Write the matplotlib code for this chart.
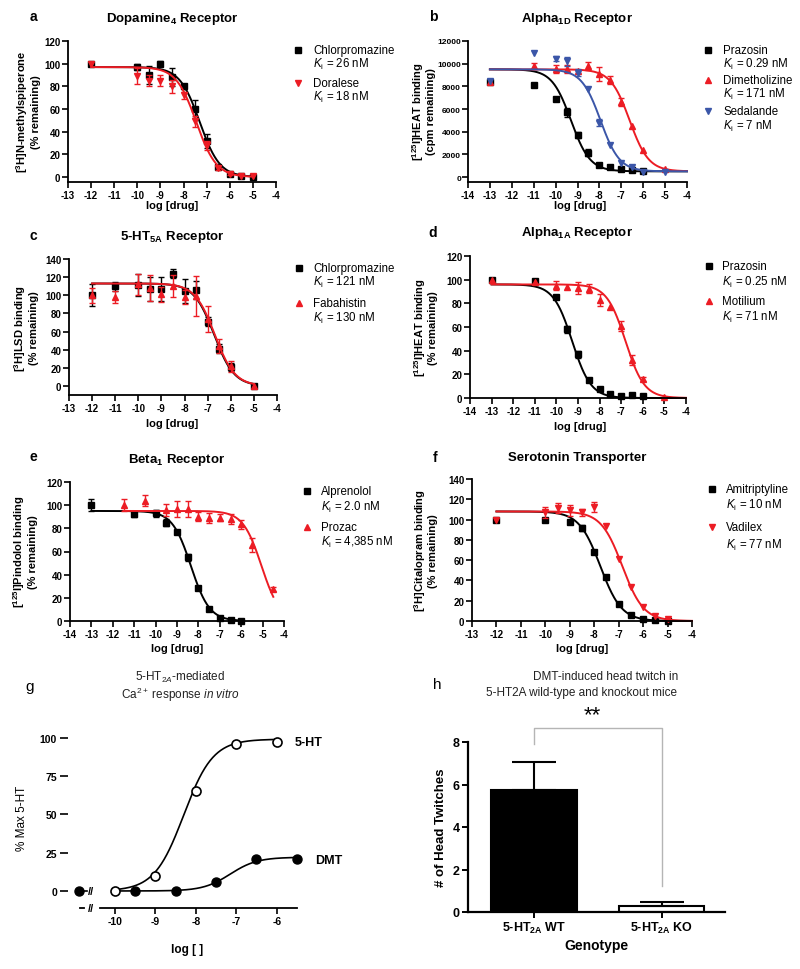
import numpy as np
import matplotlib
matplotlib.use('Agg')
import matplotlib.pyplot as plt
from matplotlib.lines import Line2D

plt.rcParams['font.family'] = ['Liberation Sans', 'DejaVu Sans']
plt.rcParams['mathtext.fontset'] = 'custom'
plt.rcParams['mathtext.rm'] = 'Liberation Sans'
plt.rcParams['mathtext.it'] = 'Liberation Sans:italic'
plt.rcParams['mathtext.bf'] = 'Liberation Sans:bold'
plt.rcParams['axes.unicode_minus'] = False

W, H = 800, 970
RED = '#ec1c24'
BLUE = '#3b56a8'

# ---- panel a: Dopamine4 ----
a_x = [-12, -10, -9.5, -9, -8.5, -8, -7.5, -7, -6.5, -6, -5.5, -5]
a_chlor = [100, 97, 90, 100, 88, 80, 60, 32, 9, 3, 1, 0]
a_chlor_err = [0, 3, 8, 2, 8, 2, 8, 6, 2, 1, 0, 0]
a_doral = [100, 89, 85, 85, 80, 72, 49, 28, 8, 3, 1, 0.5]
a_doral_err = [0, 7, 5, 5, 6, 3, 5, 4, 2, 1, 0, 0]
a_fit = [(0, 97, -7.3), (0, 97, -7.45)]   # bottom, top, logIC50
a_ki = ['26 nM', '18 nM']
a_names = ['Chlorpromazine', 'Doralese']

# ---- panel b: Alpha1D ----
b_x_praz = [-13, -11, -10, -9.5, -9, -8.5, -8, -7.5, -7, -6.5, -6]
b_praz = [8400, 8150, 6850, 5700, 3700, 2150, 1100, 850, 750, 600, 500]
b_praz_err = [0, 0, 0, 400, 300, 300, 0, 0, 0, 0, 0]
b_x = [-13, -11, -10, -9.5, -9, -8.5, -8, -7.5, -7, -6.5, -6, -5]
b_dimet = [8350, 9800, 9550, 9500, 9380, 9800, 9100, 8550, 6600, 4500, 2400, 700]
b_dimet_err = [0, 300, 350, 350, 0, 350, 600, 350, 350, 0, 0, 0]
b_sedal = [8450, 10900, 10450, 10200, 9200, 7800, 4800, 2850, 1250, 850, 470, 400]
b_sedal_err = [0, 0, 200, 400, 300, 0, 300, 0, 0, 0, 0, 0]
b_fit = [(500, 9500, -9.3), (500, 9500, -6.62), (500, 9500, -7.95)]
b_ki = ['0.29 nM', '171 nM', '7 nM']
b_names = ['Prazosin', 'Dimetholizine', 'Sedalande']

# ---- panel c: 5-HT5A ----
c_x = [-12, -11, -10, -9.5, -9, -8.5, -8, -7.5, -7, -6.5, -6, -5]
c_chlor = [100, 110, 111, 107, 107, 124, 105, 106, 71, 41, 21, 0]
c_chlor_err = [12, 5, 12, 13, 13, 5, 13, 10, 5, 5, 4, 0]
c_faba = [100, 98, 112, 108, 101, 110, 98, 99, 74, 44, 22, 0]
c_faba_err = [8, 7, 12, 14, 8, 12, 8, 22, 14, 8, 6, 0]
c_fit = [(0, 113, -6.72), (0, 113, -6.69)]
c_ki = ['121 nM', '130 nM']
c_names = ['Chlorpromazine', 'Fabahistin']

# ---- panel d: Alpha1A ----
d_x_praz = [-13, -11, -10, -9.5, -9, -8.5, -8, -7.5, -7, -6.5, -6]
d_praz = [100, 99, 85, 58, 37, 15, 7.5, 3, 2, 2.5, 1.5]
d_praz_err = [0, 0, 0, 3, 3, 0, 0, 0, 0, 0, 0]
d_x_moti = [-13, -11, -10, -9.5, -9, -8.5, -8, -7.5, -7, -6.5, -6, -5]
d_moti = [100, 98, 95, 93.5, 93, 92.5, 83, 77, 61, 32, 16, 1]
d_moti_err = [0, 0, 4, 0, 5, 4, 5, 0, 4, 4, 2, 0]
d_fit = [(0, 96, -9.27), (0, 96, -6.8)]
d_ki = ['0.25 nM', '71 nM']
d_names = ['Prazosin', 'Motilium']

# ---- panel e: Beta1 ----
e_x_alpr = [-13, -11, -10, -9.5, -9, -8.5, -8, -7.5, -7, -6.5, -6]
e_alpr = [100, 92, 93, 85, 77, 55, 28.5, 10, 3, 1, 0]
e_alpr_err = [5, 2, 3, 3, 0, 3, 2, 0, 0, 0, 0]
e_x_proz = [-11.5, -10.5, -9.5, -9, -8.5, -8, -7.5, -7, -6.5, -6, -5.5, -4.5]
e_proz = [100, 104, 96, 97, 97, 90, 89, 89, 88, 83.5, 66, 27.5]
e_proz_err = [5, 5, 5, 7, 7, 4, 4, 3, 4, 4, 6, 2]
e_fit = [(0, 95, -8.35), (0, 95, -5.05)]
e_ki = ['2.0 nM', '4,385 nM']
e_names = ['Alprenolol', 'Prozac']

# ---- panel f: Serotonin transporter ----
f_x_amit = [-12, -10, -9, -8.5, -8, -7.5, -7, -6.5, -6, -5.5, -5]
f_amit = [100, 100, 97.5, 91.5, 68, 43, 17, 6, 2, 1, 0]
f_amit_err = [0, 0, 0, 3, 0, 0, 0, 0, 0, 0, 0]
f_x_vadi = [-12, -10, -9.5, -9, -8.5, -8, -7.5, -7, -6.5, -6, -5.5, -5]
f_vadi = [100, 107, 111, 109, 107, 112, 93.5, 61, 33.5, 14, 5, 2]
f_vadi_err = [0, 5, 5, 5, 3, 5, 0, 0, 0, 0, 0, 0]
f_fit = [(0, 108, -7.75), (0, 108, -6.85)]
f_ki = ['10 nM', '77 nM']
f_names = ['Amitriptyline', 'Vadilex']

# ---- panel g: Ca2+ response ----
g_x_5ht = [-10, -9, -8, -7, -6]
g_5ht = [0, 10, 65, 96, 97]
g_x_dmt = [-9.5, -8.5, -7.5, -6.5, -5.5]
g_dmt = [0, 0, 6, 21, 21]
g_base_x = -10.89
g_base = 0
g_fit_5ht = (0, 99, -8.3, 1.2)
g_fit_dmt = (0, 22, -7.15, 1.3)

# ---- panel h: head twitch ----
h_groups = ['5-HT$_{\\mathbf{2A}}$ WT', '5-HT$_{\\mathbf{2A}}$ KO']
h_means = [5.75, 0.3]
h_err = [1.3, 0.18]


def hill_down(x, bottom, top, logc):
    return bottom + (top - bottom) / (1 + 10 ** (x - logc))


def hill_up(x, bottom, top, logc, slope):
    return bottom + (top - bottom) / (1 + 10 ** ((logc - x) * slope))


fig = plt.figure(figsize=(W / 100, H / 100), dpi=100)


def add_axes(left, top, right, bottom):
    return fig.add_axes([left / W, 1 - bottom / H, (right - left) / W, (bottom - top) / H])


def ftext(x, y, s, **kw):
    fig.text(x / W, 1 - y / H, s, **kw)


def style(ax, xlim, ylim, xticks, yticks, lab=7, ylab_size=None):
    ax.set_xlim(xlim)
    ax.set_ylim(ylim)
    ax.spines[['top', 'right']].set_visible(False)
    ax.spines['left'].set_linewidth(1.3)
    ax.spines['bottom'].set_linewidth(1.3)
    ax.set_xticks(xticks)
    ax.set_yticks(yticks)
    ax.tick_params(direction='out', length=4, width=1.2, labelsize=lab, pad=1.5)
    if ylab_size:
        ax.tick_params(axis='y', labelsize=ylab_size, pad=1)
    for t in ax.get_xticklabels() + ax.get_yticklabels():
        t.set_fontweight('bold')


def series(ax, x, y, err, color, marker, fit, xr):
    x = np.asarray(x, float)
    y = np.asarray(y, float)
    err = np.asarray(err, float)
    xs = np.linspace(xr[0], xr[1], 300)
    ax.plot(xs, hill_down(xs, *fit), color=color, lw=1.4, clip_on=False)
    m = err > 0
    ax.errorbar(x[m], y[m], yerr=err[m], fmt='none', ecolor=color, elinewidth=1,
                capsize=2.5, capthick=1, clip_on=False)
    ax.plot(x, y, ls='none', marker=marker, color=color, ms=4.3, clip_on=False)


def legend(xm, xt, ys, markers, colors, names, kis):
    for (y1, y2), mk, c, n, k in zip(ys, markers, colors, names, kis):
        fig.add_artist(Line2D([xm / W], [1 - y1 / H], marker=mk, color=c, ms=5, ls='none'))
        ftext(xt, y1, n, fontsize=8.3, va='center')
        ftext(xt, y2, r'$K_\mathrm{i}$ = ' + k, fontsize=8.3, va='center')


def header(lx, ly, letter, tx, ty, title):
    ftext(lx, ly, letter, fontsize=10, fontweight='bold', ha='center', va='center')
    ftext(tx, ty, title, fontsize=9.5, fontweight='bold', ha='center', va='center')


def ylab(x, y, s):
    ftext(x, y, s, fontsize=8, fontweight='bold', rotation=90, ha='center', va='center',
          multialignment='center', linespacing=1.1)


def xlab(x, y):
    ftext(x, y, 'log [drug]', fontsize=8, fontweight='bold', ha='center', va='center')


# panel a
ax = add_axes(68, 42, 276, 183)
style(ax, (-13, -4), (-4.4, 120), range(-13, -3), range(0, 121, 20))
series(ax, a_x, a_chlor, a_chlor_err, 'black', 's', a_fit[0], (-12, -5))
series(ax, a_x, a_doral, a_doral_err, RED, 'v', a_fit[1], (-12, -5))
header(33, 17, 'a', 172, 19, 'Dopamine$_{\\mathbf{4}}$ Receptor')
ylab(28, 112, '[$^{\\mathbf{3}}$H]N-methylspiperone\n(% remaining)')
xlab(172, 206)
legend(298, 313, [(51, 64), (84, 97)], ['s', 'v'], ['black', RED], a_names, a_ki)

# panel b
ax = add_axes(468, 42, 687, 183)
style(ax, (-14, -4), (-441, 12000), range(-14, -3), range(0, 12001, 2000), ylab_size=6)
series(ax, b_x_praz, b_praz, b_praz_err, 'black', 's', b_fit[0], (-13, -4))
series(ax, b_x, b_dimet, b_dimet_err, RED, '^', b_fit[1], (-13, -4))
series(ax, b_x, b_sedal, b_sedal_err, BLUE, 'v', b_fit[2], (-13, -4))
header(433, 17, 'b', 577, 19, 'Alpha$_{\\mathbf{1D}}$ Receptor')
ylab(423, 112, '[$^{\\mathbf{125}}$I]HEAT binding\n(cpm remaining)')
xlab(580, 206)
legend(708, 723, [(51, 64), (81, 94), (112, 126)], ['s', '^', 'v'], ['black', RED, BLUE],
       b_names, b_ki)

# panel c
ax = add_axes(69, 260, 277, 396)
style(ax, (-13, -4), (-9.9, 140), range(-13, -3), range(0, 141, 20))
series(ax, c_x, c_chlor, c_chlor_err, 'black', 's', c_fit[0], (-12, -5))
series(ax, c_x, c_faba, c_faba_err, RED, '^', c_fit[1], (-12, -5))
header(33, 236, 'c', 172, 237, '5-HT$_{\\mathbf{5A}}$ Receptor')
ylab(26, 328, '[$^{\\mathbf{3}}$H]LSD binding\n(% remaining)')
xlab(172, 424)
legend(299, 313, [(269, 282), (304, 318)], ['s', '^'], ['black', RED], c_names, c_ki)

# panel d
ax = add_axes(470, 257, 686, 399)
style(ax, (-14, -4), (0, 120), range(-14, -3), range(0, 121, 20))
series(ax, d_x_praz, d_praz, d_praz_err, 'black', 's', d_fit[0], (-13, -4))
series(ax, d_x_moti, d_moti, d_moti_err, RED, '^', d_fit[1], (-13, -4))
header(433, 233, 'd', 577, 233, 'Alpha$_{\\mathbf{1A}}$ Receptor')
ylab(425, 328, '[$^{\\mathbf{125}}$I]HEAT binding\n(% remaining)')
xlab(580, 427)
legend(709, 722, [(267, 282), (302, 317)], ['s', '^'], ['black', RED], d_names, d_ki)

# panel e
ax = add_axes(70, 483, 284, 622)
style(ax, (-14, -4), (0, 120), range(-14, -3), range(0, 121, 20))
series(ax, e_x_alpr, e_alpr, e_alpr_err, 'black', 's', e_fit[0], (-13, -6))
series(ax, e_x_proz, e_proz, e_proz_err, RED, '^', e_fit[1], (-11.5, -4.5))
header(33, 457, 'e', 177, 460, 'Beta$_{\\mathbf{1}}$ Receptor')
ylab(25, 552, '[$^{\\mathbf{125}}$I]Pindolol binding\n(% remaining)')
xlab(177, 649)
legend(307, 321, [(492, 507), (528, 542)], ['s', '^'], ['black', RED], e_names, e_ki)

# panel f
ax = add_axes(472, 480, 692, 622)
style(ax, (-13, -4), (0, 140), range(-13, -3), range(0, 141, 20))
series(ax, f_x_amit, f_amit, f_amit_err, 'black', 's', f_fit[0], (-12, -4))
series(ax, f_x_vadi, f_vadi, f_vadi_err, RED, 'v', f_fit[1], (-12, -4))
header(435, 458, 'f', 577, 458, 'Serotonin Transporter')
ylab(425, 551, '[$^{\\mathbf{3}}$H]Citalopram binding\n(% remaining)')
xlab(582, 649)
legend(712, 726, [(490, 505), (528, 545)], ['s', 'v'], ['black', RED], f_names, f_ki)

# panel g
ax = add_axes(68, 731, 305, 909)
ax.set_xlim(-11.16, -5.3)
ax.set_ylim(-11.1, 105)
ax.spines[['top', 'right', 'left']].set_visible(False)
ax.spines['bottom'].set_bounds(-10.37, -5.5)
ax.spines['bottom'].set_linewidth(1.3)
ax.set_xticks(range(-10, -5))
ax.set_yticks([0, 25, 50, 75, 100])
ax.tick_params(direction='out', length=4, width=1.2, labelsize=7.5, pad=2)
ax.tick_params(axis='y', length=6)
for t in ax.get_xticklabels() + ax.get_yticklabels():
    t.set_fontweight('bold')
xs = np.linspace(-10, -6, 300)
ax.plot(xs, hill_up(xs, *g_fit_5ht), color='black', lw=1.2)
xs = np.linspace(-10, -5.5, 300)
ax.plot(xs, hill_up(xs, *g_fit_dmt), color='black', lw=1.2)
ax.plot([g_base_x, -10.7], [g_base, g_base], color='black', lw=1.2)
ax.text(-10.58, 0, '//', fontsize=8, fontweight='bold', ha='center', va='center')
ax.plot([-10.86, -10.77], [-11.1, -11.1], color='black', lw=1.3, clip_on=False)
ax.text(-10.6, -11.1, '//', fontsize=8, fontweight='bold', ha='center', va='center', clip_on=False)
ax.plot(g_x_5ht, g_5ht, ls='none', marker='o', ms=6.5, mfc='white', mec='black', mew=1.2,
        clip_on=False)
ax.plot(g_x_dmt + [g_base_x], g_dmt + [g_base], ls='none', marker='o', ms=6.5, color='black',
        clip_on=False)
ax.text(-5.56, 97, '5-HT', fontsize=9, fontweight='bold', va='center', clip_on=False)
ax.text(-5.06, 20, 'DMT', fontsize=9, fontweight='bold', va='center', clip_on=False)
ftext(30, 687, 'g', fontsize=11, ha='center', va='center')
ftext(180, 677, '5-HT$_{2A}$-mediated', fontsize=8.5, ha='center', va='center', color='#222222')
ftext(180, 695, 'Ca$^{2+}$ response $\\mathit{in\\ vitro}$', fontsize=8.5, ha='center',
      va='center', color='#222222')
ftext(22, 818, '% Max 5-HT', fontsize=8.5, rotation=90, ha='center', va='center')
ftext(187, 950, 'log [ ]', fontsize=8.5, fontweight='bold', ha='center', va='center')

# panel h
ax = add_axes(468, 743, 725, 913)
ax.set_xlim(-0.518, 1.498)
ax.set_ylim(0, 8)
ax.spines[['top', 'right']].set_visible(False)
ax.spines['left'].set_linewidth(1.6)
ax.spines['bottom'].set_linewidth(1.6)
ax.bar([0, 1], h_means, width=0.67, color=['black', 'white'], edgecolor='black', linewidth=1.5)
ax.errorbar([0, 1], h_means, yerr=[[0, 0], h_err], fmt='none', ecolor='black', elinewidth=1.5,
            capsize=15.5, capthick=1.5)
ax.set_xticks([0, 1])
ax.set_xticklabels(h_groups)
ax.set_yticks(range(0, 9, 2))
ax.tick_params(direction='out', length=4, width=1.4, labelsize=9, pad=2)
for t in ax.get_xticklabels() + ax.get_yticklabels():
    t.set_fontweight('bold')
ax.plot([0, 0, 1, 1], [7.9, 8.66, 8.66, 1.22], color='#b5b5b5', lw=1, clip_on=False)
ax.text(0.46, 9.3, '**', fontsize=16, ha='center', va='center', clip_on=False)
ax.set_ylabel('# of Head Twitches', fontsize=9.5, fontweight='bold', labelpad=4)
ax.set_xlabel('Genotype', fontsize=10, fontweight='bold', labelpad=2)
ftext(437, 685, 'h', fontsize=11, ha='center', va='center')
ftext(606, 677, 'DMT-induced head twitch in', fontsize=8.5, ha='center', va='center',
      color='#222222')
ftext(582, 693, '5-HT2A wild-type and knockout mice', fontsize=8.5, ha='center', va='center',
      color='#222222')

fig.savefig('out.png', dpi=100, facecolor='white')
